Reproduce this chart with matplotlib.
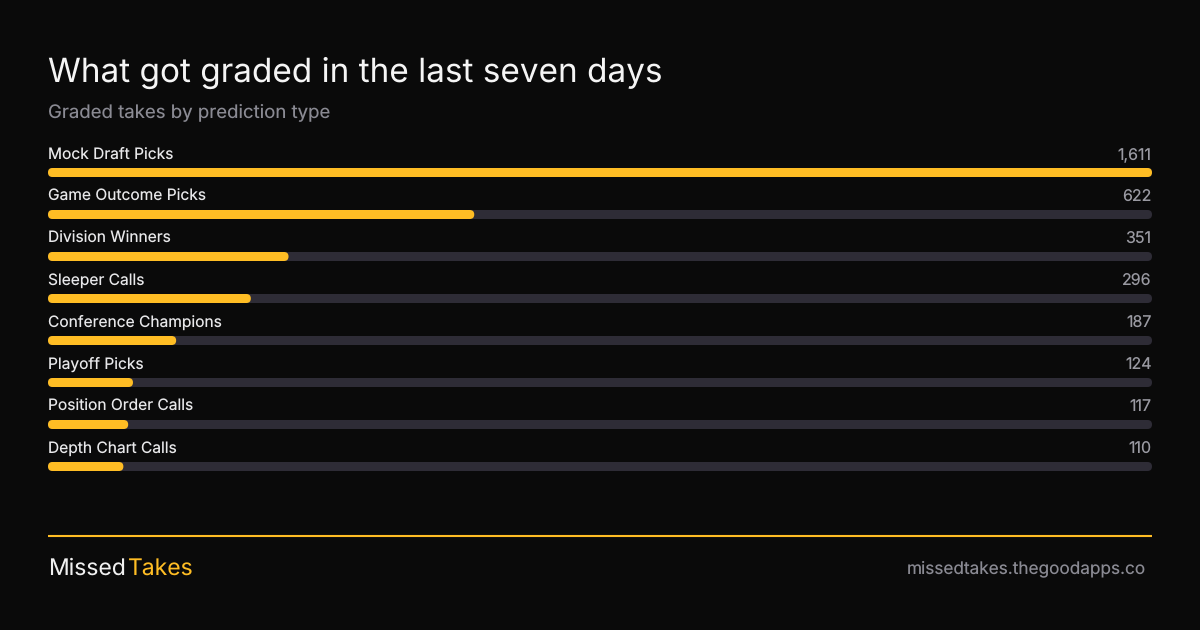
import matplotlib
matplotlib.use('Agg')
import matplotlib.pyplot as plt
from matplotlib.patches import FancyBboxPatch

plt.rcParams['font.family'] = ['Inter', 'DejaVu Sans']
plt.rcParams['text.hinting'] = 'no_hinting'
plt.rcParams['text.hinting_factor'] = 1

categories = ["Mock Draft Picks", "Game Outcome Picks", "Division Winners", "Sleeper Calls",
              "Conference Champions", "Playoff Picks", "Position Order Calls", "Depth Chart Calls"]
values = [1611, 622, 351, 296, 187, 124, 117, 110]

BG = '#0a0a0a'
GOLD = '#ffbd24'
TRACK = '#2e2c36'
W, H = 1200, 630

fig = plt.figure(figsize=(W / 100, H / 100), dpi=100, facecolor=BG)

# --- chart axes, placed in pixels: one row is 42px tall ---
ax = fig.add_axes([48 / W, 1 - 487.5 / H, 1104 / W, 336 / H])
ax.set_xlim(0, max(values))
ax.set_ylim(len(values) - 0.5, -0.5)
ax.axis('off')

px_x = max(values) / 1104
px_y = 1 / 42
bar_h = 9 * px_y


def rounded_bar(y, width, color, zorder):
    r = 4.5 * px_x
    box = FancyBboxPatch((0, y - bar_h / 2), width, bar_h,
                         boxstyle=f"round,pad=0,rounding_size={r}",
                         mutation_aspect=px_y / px_x,
                         fc=color, ec='none', zorder=zorder, clip_on=False)
    ax.add_patch(box)


for i, (name, val) in enumerate(zip(categories, values)):
    rounded_bar(i, max(values), TRACK, 1)
    rounded_bar(i, val, GOLD, 2)
    ax.annotate(name, xy=(0, i), xytext=(0, 13.5), textcoords='offset pixels',
                ha='left', va='baseline', fontsize=11.2, color='#e8e8ea')
    ax.annotate(f"{val:,}", xy=(max(values), i), xytext=(-0.5, 13.5), textcoords='offset pixels',
                ha='right', va='baseline', fontsize=11.5, color='#9a9aa2')


# --- header and footer text, positioned in pixels ---
def px_text(x, y, s, **kw):
    return fig.text(x / W, 1 - y / H, s, **kw)


px_text(48, 82, "What got graded in the last seven days", fontsize=24, color='#f5f5f5',
        va='baseline')
px_text(48, 117, "Graded takes by prediction type", fontsize=13.4, color='#8a8a93', va='baseline')

rule = plt.Line2D([48 / W, 1152 / W], [1 - 536 / H, 1 - 536 / H], color=GOLD, lw=1.5,
                  solid_capstyle='butt')
fig.add_artist(rule)

px_text(48, 575, "Missed", fontsize=16.5, color='#f0f0f0', va='baseline')
px_text(128, 575, "Takes", fontsize=16.5, color=GOLD, va='baseline')
px_text(1146, 573, "missedtakes.thegoodapps.co", fontsize=12.4, color='#8a8a93', va='baseline', ha='right')

fig.savefig('out.png', dpi=100, facecolor=BG)
